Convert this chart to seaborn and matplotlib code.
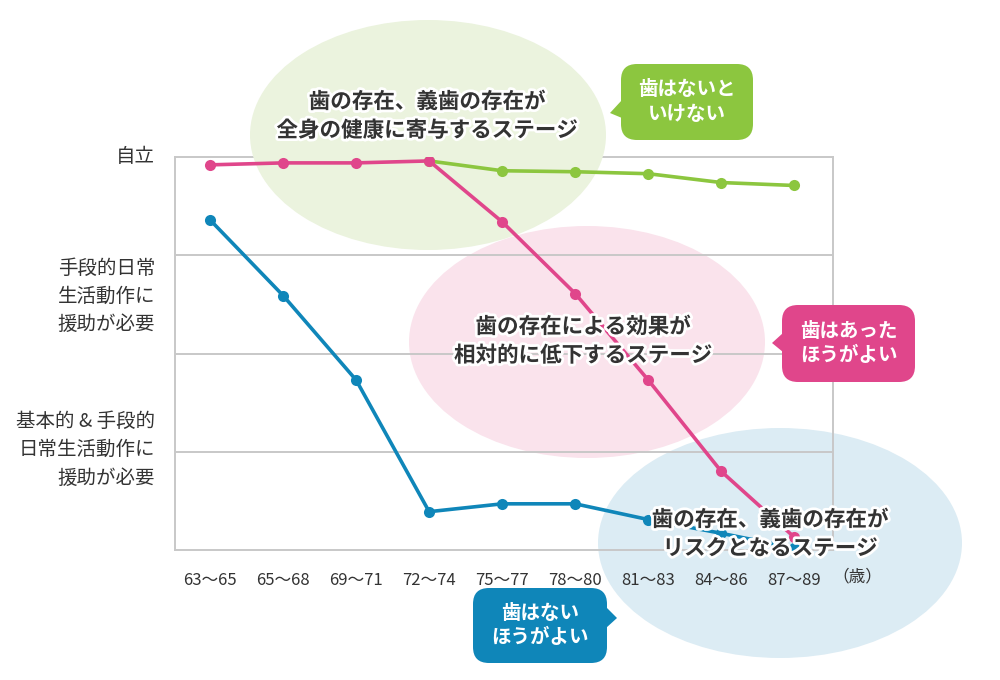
import matplotlib
matplotlib.use("Agg")
import matplotlib.pyplot as plt
import matplotlib.patheffects as pe
from matplotlib.patches import Ellipse, FancyBboxPatch, Polygon
from matplotlib.transforms import Affine2D
import numpy as np
import seaborn as sns

# ---- data ------------------------------------------------------------
age_groups = ["63～65", "65～68", "69～71", "72～74", "75～77",
              "78～80", "81～83", "84～86", "87～89"]

# 4 = 自立, 0 = bottom of the chart
teeth_better = [3.92, 3.94, 3.94, 3.96, 3.34, 2.61, 1.73, 0.80, 0.13]            # pink
teeth_needed = [np.nan, np.nan, np.nan, 3.96, 3.86, 3.85, 3.83, 3.74, 3.71]      # green
teeth_none = [3.36, 2.59, 1.73, 0.39, 0.47, 0.47, 0.31, 0.17, 0.02]               # blue

level_labels = ["自立",
                "手段的日常\n生活動作に\n援助が必要",
                "基本的 & 手段的\n日常生活動作に\n援助が必要"]
level_pos = [4.0, 2.58, 1.02]

stage_texts = ["歯の存在、義歯の存在が\n全身の健康に寄与するステージ",
               "歯の存在による効果が\n相対的に低下するステージ",
               "歯の存在、義歯の存在が\nリスクとなるステージ"]
callout_texts = ["歯はないと\nいけない", "歯はあった\nほうがよい", "歯はない\nほうがよい"]

GREEN = "#8cc63f"
PINK = "#e0468b"
BLUE = "#0f86b9"
GRID = "#c8c8c8"
TEXT = "#333333"

# ---- figure ----------------------------------------------------------
sns.set_theme(style="white")
plt.rcParams["font.family"] = ["Noto Sans CJK JP", "DejaVu Sans"]

fig = plt.figure(figsize=(10, 6.8), dpi=100)
ax = fig.add_axes([0.175, 1 - 550 / 680, 0.658, (550 - 157) / 680])
ax.set_axisbelow(True)

# pixel coordinates (y down) for the decorations
pix = Affine2D().scale(1 / 1000, -1 / 680).translate(0, 1) + fig.transFigure

x = np.arange(len(age_groups))
for vals, col in [(teeth_needed, GREEN), (teeth_none, BLUE), (teeth_better, PINK)]:
    sns.lineplot(x=x, y=vals, color=col, marker="o", markersize=8,
                 markeredgewidth=0, linewidth=2.6, ax=ax, zorder=3)

ax.set_xlim(-0.48, 8.53)
ax.set_ylim(0, 4)
ax.set_xticks(x, age_groups)
ax.set_yticks([1, 2, 3])
ax.set_yticklabels([])
ax.grid(axis="y", color=GRID, linewidth=1.4)
ax.tick_params(axis="both", length=0)
ax.tick_params(axis="x", labelsize=12, labelcolor=TEXT, pad=16)
for s in ax.spines.values():
    s.set_color(GRID)
    s.set_linewidth(1.4)
ax.set_xlabel("")
ax.set_ylabel("")

ax.text(857, 577, "（歳）", transform=pix, ha="center", va="center",
        fontsize=12, color=TEXT)

# level labels on the left
for lab, pos in zip(level_labels, level_pos):
    ax.text(-0.75, pos, lab, ha="right", va="center", fontsize=14,
            color=TEXT, linespacing=1.45)

# stage ellipses
ax.add_patch(Ellipse((428, 135), 356, 230, transform=pix, facecolor="#ebf3de",
                     edgecolor="none", zorder=2.6, clip_on=False))
ax.add_patch(Ellipse((587, 342), 356, 232, transform=pix, facecolor="#fae3ec",
                     edgecolor="none", zorder=0.3, clip_on=False))
ax.add_patch(Ellipse((780, 543), 364, 230, transform=pix, facecolor="#dcecf4",
                     edgecolor="none", zorder=0.2, clip_on=False))

stroke = [pe.withStroke(linewidth=4, foreground="white")]
for txt, (cx, cy) in zip(stage_texts, [(427, 116), (583, 341), (770, 534)]):
    ax.text(cx, cy, txt, transform=pix, ha="center", va="center",
            fontsize=15.5, fontweight="bold", color=TEXT, linespacing=1.45,
            path_effects=stroke, zorder=5)

# callout bubbles
boxes = [(621, 64, 132, 76, GREEN, [(610, 113), (622, 100), (622, 118)]),
         (782, 305, 133, 77, PINK, [(772, 343), (783, 333), (783, 352)]),
         (473, 588, 134, 75, BLUE, [(617, 618), (606, 607), (606, 628)])]
for (bx, by, bw, bh, col, tri), txt in zip(boxes, callout_texts):
    ax.add_patch(FancyBboxPatch((bx, by), bw, bh, transform=pix,
                                boxstyle="round,pad=0,rounding_size=16",
                                facecolor=col, edgecolor="none",
                                zorder=6, clip_on=False))
    ax.add_patch(Polygon(tri, closed=True, transform=pix, facecolor=col,
                         edgecolor="none", zorder=6, clip_on=False))
    ax.text(bx + bw / 2, by + bh / 2, txt, transform=pix, ha="center",
            va="center", fontsize=14, fontweight="bold", color="white",
            linespacing=1.35, zorder=7)

fig.savefig("out.png", dpi=100)
